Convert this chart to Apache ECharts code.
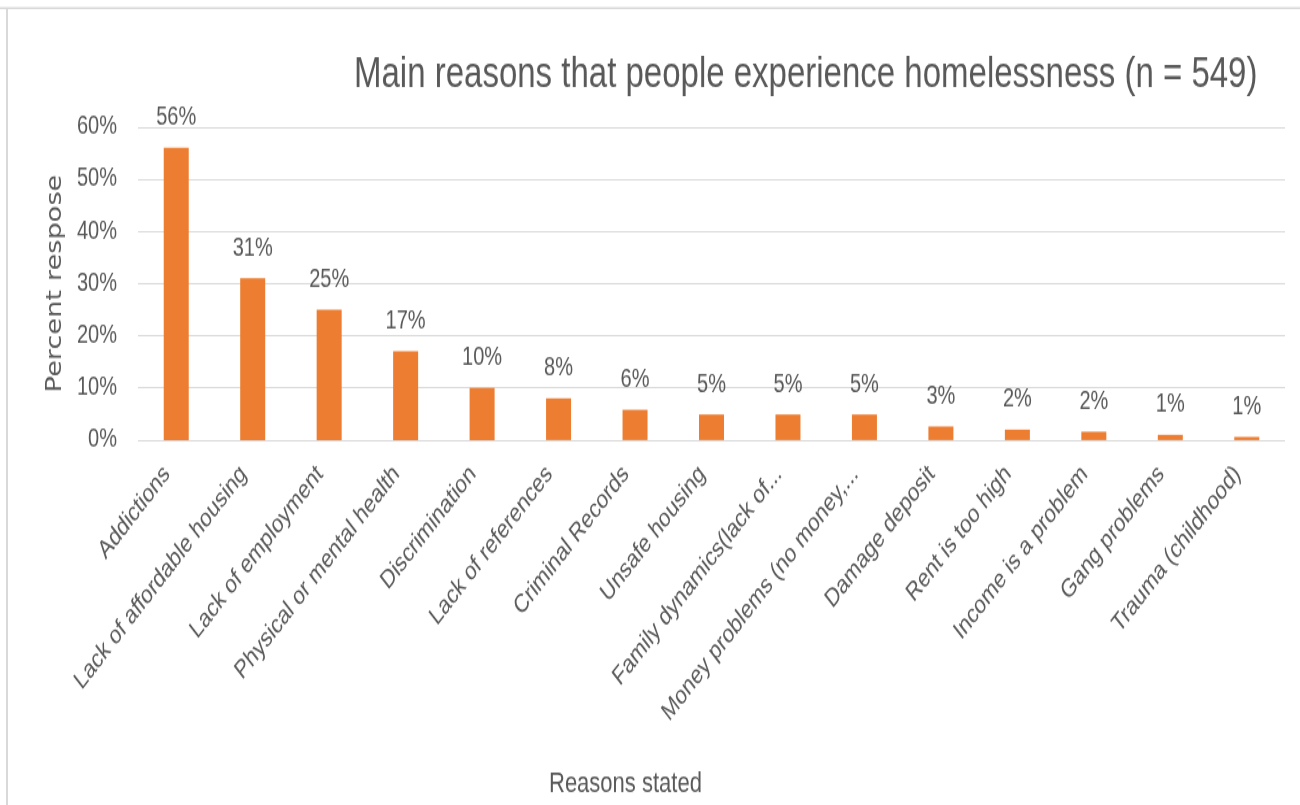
<!DOCTYPE html>
<html>
<head>
<meta charset="utf-8">
<title>Main reasons that people experience homelessness</title>
<script src="https://cdn.jsdelivr.net/npm/echarts@6/dist/echarts.min.js"></script>
<style>
  html, body { margin: 0; padding: 0; background: #ffffff; }
  #page { width: 1300px; height: 805px; position: relative; overflow: hidden; background: #ffffff; }
  /* The chart is laid out on a shorter canvas and stretched to the full page height,
     which gives the tall, condensed lettering of the original figure. */
  #chart {
    position: absolute;
    left: 0;
    top: 0;
    width: 1300px;
    height: 620px;
    transform: scaleY(1.2984);
    transform-origin: 0 0;
  }
</style>
</head>
<body>
<div id="page"><div id="chart"></div></div>
<script>
// Survey categories, in order of response share
const reasons = [
  'Addictions',
  'Lack of affordable housing',
  'Lack of employment',
  'Physical or mental health',
  'Discrimination',
  'Lack of references',
  'Criminal Records',
  'Unsafe housing',
  'Family dynamics(lack of...',
  'Money problems (no money,...',
  'Damage deposit',
  'Rent is too high',
  'Income is a problem',
  'Gang problems',
  'Trauma (childhood)'
];

// Percent of respondents (n = 549) naming each reason
const percentResponse = [56, 31, 25, 17, 10, 8, 5.8, 4.9, 4.9, 4.9, 2.6, 2.0, 1.6, 1.0, 0.6];

// Y-axis range and step, in percent
const yMin = 0;
const yMax = 60;
const yStep = 10;

const titleText = 'Main reasons that people experience homelessness (n = 549)';
const yAxisTitle = 'Percent respose';
const xAxisTitle = 'Reasons stated';

const FONT = "'Liberation Sans', Arial, sans-serif";
const TEXT = '#595959';

const chart = echarts.init(document.getElementById('chart'), null, { renderer: 'canvas' });

chart.setOption({
  backgroundColor: '#ffffff',
  animation: false,
  title: {
    text: titleText,
    left: 349,
    top: 36,
    textStyle: { fontFamily: FONT, fontSize: 33, fontWeight: 'normal', color: TEXT }
  },
  grid: { left: 138, right: 15, top: 97.8, bottom: 281.1, containLabel: false },
  xAxis: {
    type: 'category',
    data: reasons,
    axisLine: { show: false },
    axisTick: { show: false },
    axisLabel: {
      interval: 0,
      rotate: 45,
      margin: 14,
      padding: [0, 13, 0, 0],
      fontFamily: FONT,
      fontSize: 20,
      color: TEXT
    }
  },
  yAxis: {
    type: 'value',
    min: yMin,
    max: yMax,
    interval: yStep,
    name: yAxisTitle,
    nameLocation: 'middle',
    nameGap: 60,
    nameRotate: 90,
    nameTextStyle: { fontFamily: "'DejaVu Sans', sans-serif", fontSize: 21, color: TEXT },
    axisLine: { show: false },
    axisTick: { show: false },
    axisLabel: {
      formatter: '{value}%',
      margin: 21,
      fontFamily: FONT,
      fontSize: 20,
      color: TEXT
    },
    splitLine: { lineStyle: { color: '#d9d9d9', width: 1.2 } }
  },
  series: [{
    type: 'bar',
    data: percentResponse,
    barWidth: 25,
    itemStyle: { color: '#ed7d31' },
    label: {
      show: true,
      position: 'top',
      distance: 13,
      formatter: p => Math.round(p.value) + '%',
      fontFamily: FONT,
      fontSize: 20,
      color: TEXT
    }
  }],
  graphic: [
    {
      type: 'line',
      shape: { x1: 0, y1: 6.2, x2: 1300, y2: 6.2 },
      style: { stroke: '#d9d9d9', lineWidth: 1.6 }
    },
    {
      type: 'line',
      shape: { x1: 7, y1: 6.2, x2: 7, y2: 620 },
      style: { stroke: '#d9d9d9', lineWidth: 2 }
    },
    {
      type: 'text',
      left: 549,
      top: 593,
      style: { text: xAxisTitle, font: "22px " + FONT, fill: TEXT }
    }
  ]
});
</script>
</body>
</html>
